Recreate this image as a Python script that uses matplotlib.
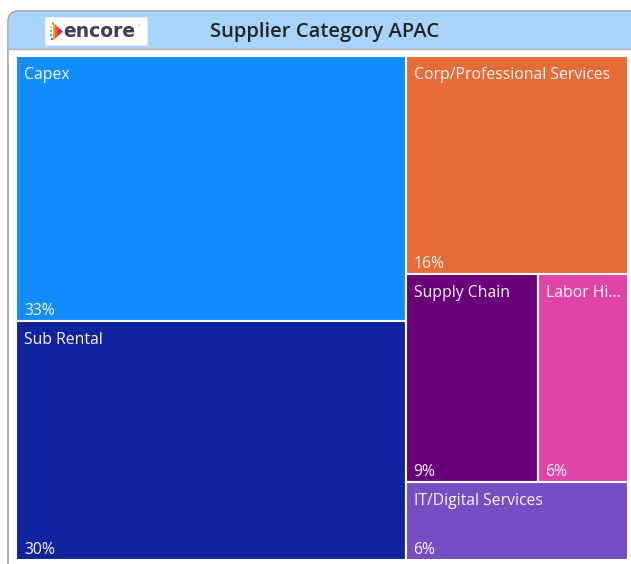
import matplotlib
matplotlib.use('Agg')
import matplotlib.pyplot as plt
from matplotlib.patches import Rectangle, FancyBboxPatch, Polygon

# ---------------- data ----------------
title = 'Supplier Category APAC'
categories = ['Capex', 'Sub Rental', 'Corp/Professional Services',
              'Supply Chain', 'Labor Hire', 'IT/Digital Services']
values = [33.4, 30.2, 15.7, 8.9, 6.1, 5.6]
colors = ['#118DFF', '#12239E', '#E66C37', '#6B007B', '#E044A7', '#744EC2']
strips = [2, 1, 2, 1]   # number of tiles in each successive strip of the layout

FONT = ['Open Sans', 'DejaVu Sans']


def layout(vals, strips, x, y, w, h):
    rects = []
    i = 0
    for n in strips:
        group = vals[i:i + n]
        s = sum(group)
        frac = s / sum(vals[i:])
        if w >= h:
            sw = w * frac
            yy = y
            for v in group:
                hh = h * v / s
                rects.append((x, yy, sw, hh))
                yy += hh
            x += sw
            w -= sw
        else:
            sh = h * frac
            xx = x
            for v in group:
                ww = w * v / s
                rects.append((xx, y, ww, sh))
                xx += ww
            y += sh
            h -= sh
        i += n
    return rects


FW, FH = 631, 564
fig = plt.figure(figsize=(FW / 100, FH / 100), dpi=100)
fig.patch.set_facecolor('white')

bg = fig.add_axes([0, 0, 1, 1])
bg.set_xlim(0, FW)
bg.set_ylim(FH, 0)
bg.axis('off')

# outer frame
frame = FancyBboxPatch((8, 11), 700, 600, boxstyle='round,pad=0,rounding_size=11',
                       facecolor='white', edgecolor='#9a9a9a', lw=1.1, zorder=1)
bg.add_patch(frame)
header = FancyBboxPatch((8.6, 11.6), 700, 60, boxstyle='round,pad=0,rounding_size=10.5',
                        facecolor='#A8D4FC', edgecolor='none', zorder=2)
bg.add_patch(header)
bg.add_patch(Rectangle((8.6, 49), 700, 40, facecolor='white', edgecolor='none', zorder=3))
bg.plot([8.6, FW], [49, 49], color='#b4b4b4', lw=1.0, zorder=4)

# logo
bg.add_patch(Rectangle((45, 17), 102, 28, facecolor='white', edgecolor='#e6eef6', lw=0.6, zorder=5))
strip_cols = ['#f7a62b', '#ef5a2a', '#e53935', '#d81b60', '#8e2c8f']
tx0, tx1, ty0, ty1 = 53, 63, 22.5, 40.5
nstr = len(strip_cols)
for k, c in enumerate(strip_cols):
    xa = tx0 + (tx1 - tx0) * k / nstr
    xb = tx0 + (tx1 - tx0) * (k + 1) / nstr
    ha = (ty1 - ty0) / 2 * (1 - (xa - tx0) / (tx1 - tx0))
    hb = (ty1 - ty0) / 2 * (1 - (xb - tx0) / (tx1 - tx0))
    yc = (ty0 + ty1) / 2
    bg.add_patch(Polygon([(xa, yc - ha), (xb, yc - hb), (xb, yc + hb), (xa, yc + ha)],
                         closed=True, facecolor=c, edgecolor='none', zorder=6))
for (dx, dy, c) in [(50, 25.5, '#f7c948'), (50, 29.5, '#8bc34a'), (50, 33.5, '#29b6f6'),
                    (51, 37.5, '#ab47bc'), (51.5, 22, '#ff8a65')]:
    bg.add_patch(Rectangle((dx, dy), 2.4, 2.8, facecolor=c, edgecolor='none', zorder=6))
bg.text(63.5, 31.5, 'encore', fontsize=13.5, fontweight='bold', color='#3e3e5c',
        family=['DejaVu Sans'], va='center', ha='left', zorder=7)
bg.text(137, 27, '°', fontsize=4, color='#888888', va='center', ha='left', zorder=7)

# title
bg.text(325, 31.5, title, fontsize=14.6, fontweight='semibold', color='#252423',
        family=FONT, va='center', ha='center', zorder=7)

# treemap
L, R, T, B = 16, 628, 56, 560
ax = fig.add_axes([L / FW, 1 - B / FH, (R - L) / FW, (B - T) / FH])
W, H = R - L, B - T
ax.set_xlim(0, W)
ax.set_ylim(H, 0)
ax.axis('off')

rects = layout(values, strips, 0, 0, W, H)
total = sum(values)
fig.canvas.draw()
renderer = fig.canvas.get_renderer()

for (x, y, w, h), name, v, c in zip(rects, categories, values, colors):
    ax.add_patch(Rectangle((x, y), w, h, facecolor=c, edgecolor='white', lw=1.5))
    t = ax.text(x + 8, y + 19, name, fontsize=11.3, color='#f5f5f5', family=FONT,
                va='center', ha='left')
    maxw = w - 15
    label = name
    while t.get_window_extent(renderer).width > maxw and len(label) > 1:
        label = label[:-1]
        t.set_text(label.rstrip() + '...')
    ax.text(x + 8, y + h - 10, f'{v / total * 100:.0f}%', fontsize=11.3,
            color='#f5f5f5', family=FONT, va='center', ha='left')

fig.savefig('out.png', dpi=100, facecolor='white')
